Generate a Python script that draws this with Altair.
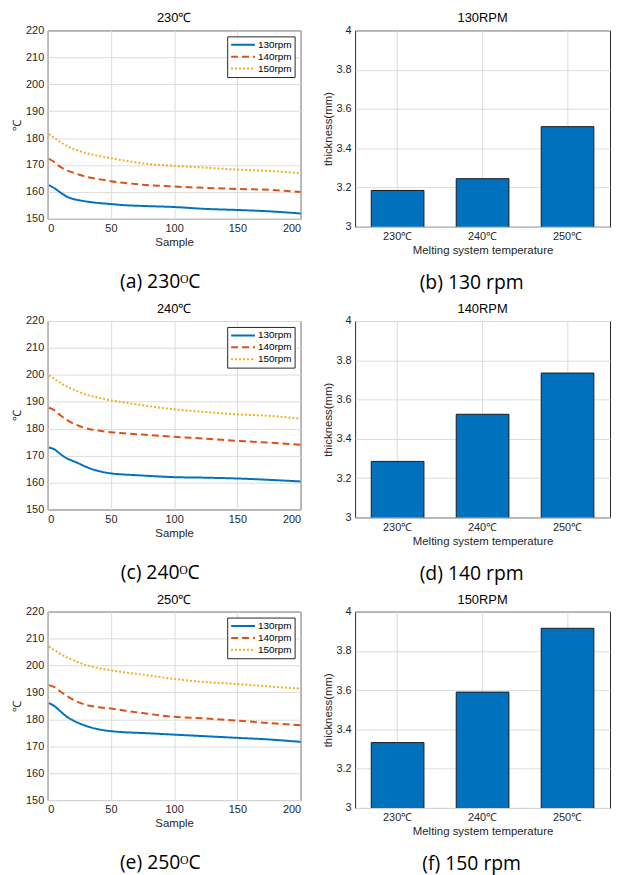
import altair as alt
import pandas as pd

# ---------------- data ----------------
sample = [1, 5, 10, 15, 20, 25, 30, 40, 50, 60, 75, 100, 125, 150, 175, 200]
series_names = ["130rpm", "140rpm", "150rpm"]

t230_130 = [162.5, 161.5, 159.8, 158.3, 157.4, 156.9, 156.5, 155.9, 155.5, 155.1, 154.8, 154.4, 153.7, 153.3, 152.8, 152.0]
t230_140 = [172.3, 171.2, 169.3, 168.0, 167.2, 166.4, 165.7, 164.8, 164.0, 163.4, 162.7, 162.0, 161.5, 161.1, 160.8, 160.0]
t230_150 = [181.5, 180.2, 178.6, 177.2, 176.0, 175.2, 174.5, 173.4, 172.5, 171.7, 170.6, 169.7, 169.0, 168.3, 167.8, 167.0]

t240_130 = [173.0, 172.4, 170.6, 169.0, 168.0, 167.0, 165.9, 164.3, 163.4, 163.0, 162.6, 162.0, 161.8, 161.5, 161.0, 160.4]
t240_140 = [187.8, 187.0, 185.0, 183.3, 182.0, 181.0, 180.2, 179.3, 178.7, 178.3, 177.8, 177.0, 176.3, 175.5, 174.8, 174.0]
t240_150 = [199.8, 198.6, 197.0, 195.7, 194.6, 193.6, 192.7, 191.5, 190.5, 189.8, 188.7, 187.2, 186.2, 185.3, 184.8, 183.7]

t250_130 = [186.0, 185.0, 183.0, 181.0, 179.6, 178.5, 177.6, 176.3, 175.6, 175.2, 174.9, 174.3, 173.7, 173.1, 172.5, 171.6]
t250_140 = [192.7, 192.0, 190.3, 188.7, 187.3, 186.2, 185.4, 184.5, 184.0, 183.3, 182.3, 180.9, 180.3, 179.5, 178.6, 177.8]
t250_150 = [207.0, 205.8, 204.3, 203.0, 202.0, 201.0, 200.2, 199.0, 198.2, 197.5, 196.6, 195.0, 193.8, 193.1, 192.2, 191.4]

bar_temps = ["230℃", "240℃", "250℃"]
thick_130 = [3.185, 3.245, 3.51]
thick_140 = [3.285, 3.525, 3.735]
thick_150 = [3.333, 3.59, 3.915]

# ---------------- style ----------------
FONT = "Liberation Sans"
CAP_FONT = "Open Sans"
BLUE, ORANGE, YELLOW = "#0072BD", "#D95319", "#EDB120"
LW, LH = 255, 190
BW, BH = 257, 198


def line_panel(title, caption, s130, s140, s150):
    n = len(sample)
    df = pd.DataFrame({
        "Sample": sample * 3,
        "T": s130 + s140 + s150,
        "series": [series_names[0]] * n + [series_names[1]] * n + [series_names[2]] * n,
    })
    lines = alt.Chart(df).mark_line(strokeWidth=2, interpolate="monotone").encode(
        x=alt.X("Sample:Q", scale=alt.Scale(domain=[0, 200], nice=False),
                axis=alt.Axis(values=[0, 50, 100, 150, 200], title="Sample")),
        y=alt.Y("T:Q", scale=alt.Scale(domain=[150, 220], nice=False),
                axis=alt.Axis(values=list(range(150, 221, 10)), title="℃")),
        color=alt.Color("series:N",
                        scale=alt.Scale(domain=series_names, range=[BLUE, ORANGE, YELLOW]),
                        legend=alt.Legend(title=None, orient="top-right")),
        strokeDash=alt.StrokeDash("series:N",
                                  scale=alt.Scale(domain=series_names,
                                                  range=[[1, 0], [7, 4], [2, 2]]),
                                  legend=alt.Legend(title=None, orient="top-right")),
    )
    cap = alt.Chart(pd.DataFrame({"c": [caption]})).mark_text(
        font=CAP_FONT, fontSize=19.5, color="#000000", baseline="middle", align="center"
    ).encode(text="c:N", x=alt.value(LW / 2 - 14), y=alt.value(LH + 64))
    return alt.layer(lines, cap).properties(
        width=LW, height=LH,
        title=alt.TitleParams(title, font=FONT, fontSize=13, fontWeight="normal", color="#000000", offset=-1),
    )


def bar_panel(title, caption, vals):
    df = pd.DataFrame({"temp": bar_temps, "thick": vals})
    bars = alt.Chart(df).mark_bar(color=BLUE, stroke="#1a1a1a", strokeWidth=1, clip=True).encode(
        x=alt.X("temp:N", sort=bar_temps,
                scale=alt.Scale(paddingInner=0.38, paddingOuter=0.19),
                axis=alt.Axis(labelAngle=0, title="Melting system temperature", bandPosition=0.5)),
        y=alt.Y("thick:Q", scale=alt.Scale(domain=[3, 4], nice=False, zero=False),
                axis=alt.Axis(values=[3, 3.2, 3.4, 3.6, 3.8, 4], format="~g", title="thickness(mm)")),
    )
    cap = alt.Chart(pd.DataFrame({"c": [caption]})).mark_text(
        font=CAP_FONT, fontSize=19.5, color="#000000", baseline="middle", align="center"
    ).encode(text="c:N", x=alt.value(BW / 2 - 11), y=alt.value(BH + 57))
    return alt.layer(bars, cap).properties(
        width=BW, height=BH,
        title=alt.TitleParams(title, font=FONT, fontSize=13, fontWeight="normal", color="#000000", offset=-1),
    )


def row(a, b):
    return alt.hconcat(a, b, spacing=16).resolve_scale(
        color="independent", strokeDash="independent", x="independent", y="independent"
    ).resolve_legend(color="independent", strokeDash="independent")


row1 = row(line_panel("230℃", "(a) 230ᴼC", t230_130, t230_140, t230_150),
           bar_panel("130RPM", "(b) 130 rpm", thick_130))
row2 = row(line_panel("240℃", "(c) 240ᴼC", t240_130, t240_140, t240_150),
           bar_panel("140RPM", "(d) 140 rpm", thick_140))
row3 = row(line_panel("250℃", "(e) 250ᴼC", t250_130, t250_140, t250_150),
           bar_panel("150RPM", "(f) 150 rpm", thick_150))

chart = alt.vconcat(row1, row2, row3, spacing=9).resolve_scale(
    color="independent", strokeDash="independent", x="independent", y="independent"
).resolve_legend(
    color="independent", strokeDash="independent"
).properties(
    padding={"left": 3, "top": 0, "right": 0, "bottom": 0}
).configure_view(
    stroke="#262626", strokeWidth=1
).configure_axis(
    grid=True, gridColor="#dcdcdc", gridWidth=1, domain=False, ticks=False,
    labelFont=FONT, labelFontSize=11, labelColor="#262626", labelPadding=4,
    titleFont=FONT, titleFontSize=11.5, titleFontWeight="normal", titleColor="#262626",
    titlePadding=3,
).configure_legend(
    labelFont=FONT, labelFontSize=10, labelColor="#000000",
    symbolType="stroke", symbolSize=576, symbolStrokeWidth=2, clipHeight=11,
    strokeColor="#262626", fillColor="#ffffff", padding=3, rowPadding=1,
    offset=6, cornerRadius=0, labelOffset=2,
)

chart.save("out.html", embed_options={"renderer": "svg", "actions": False})
